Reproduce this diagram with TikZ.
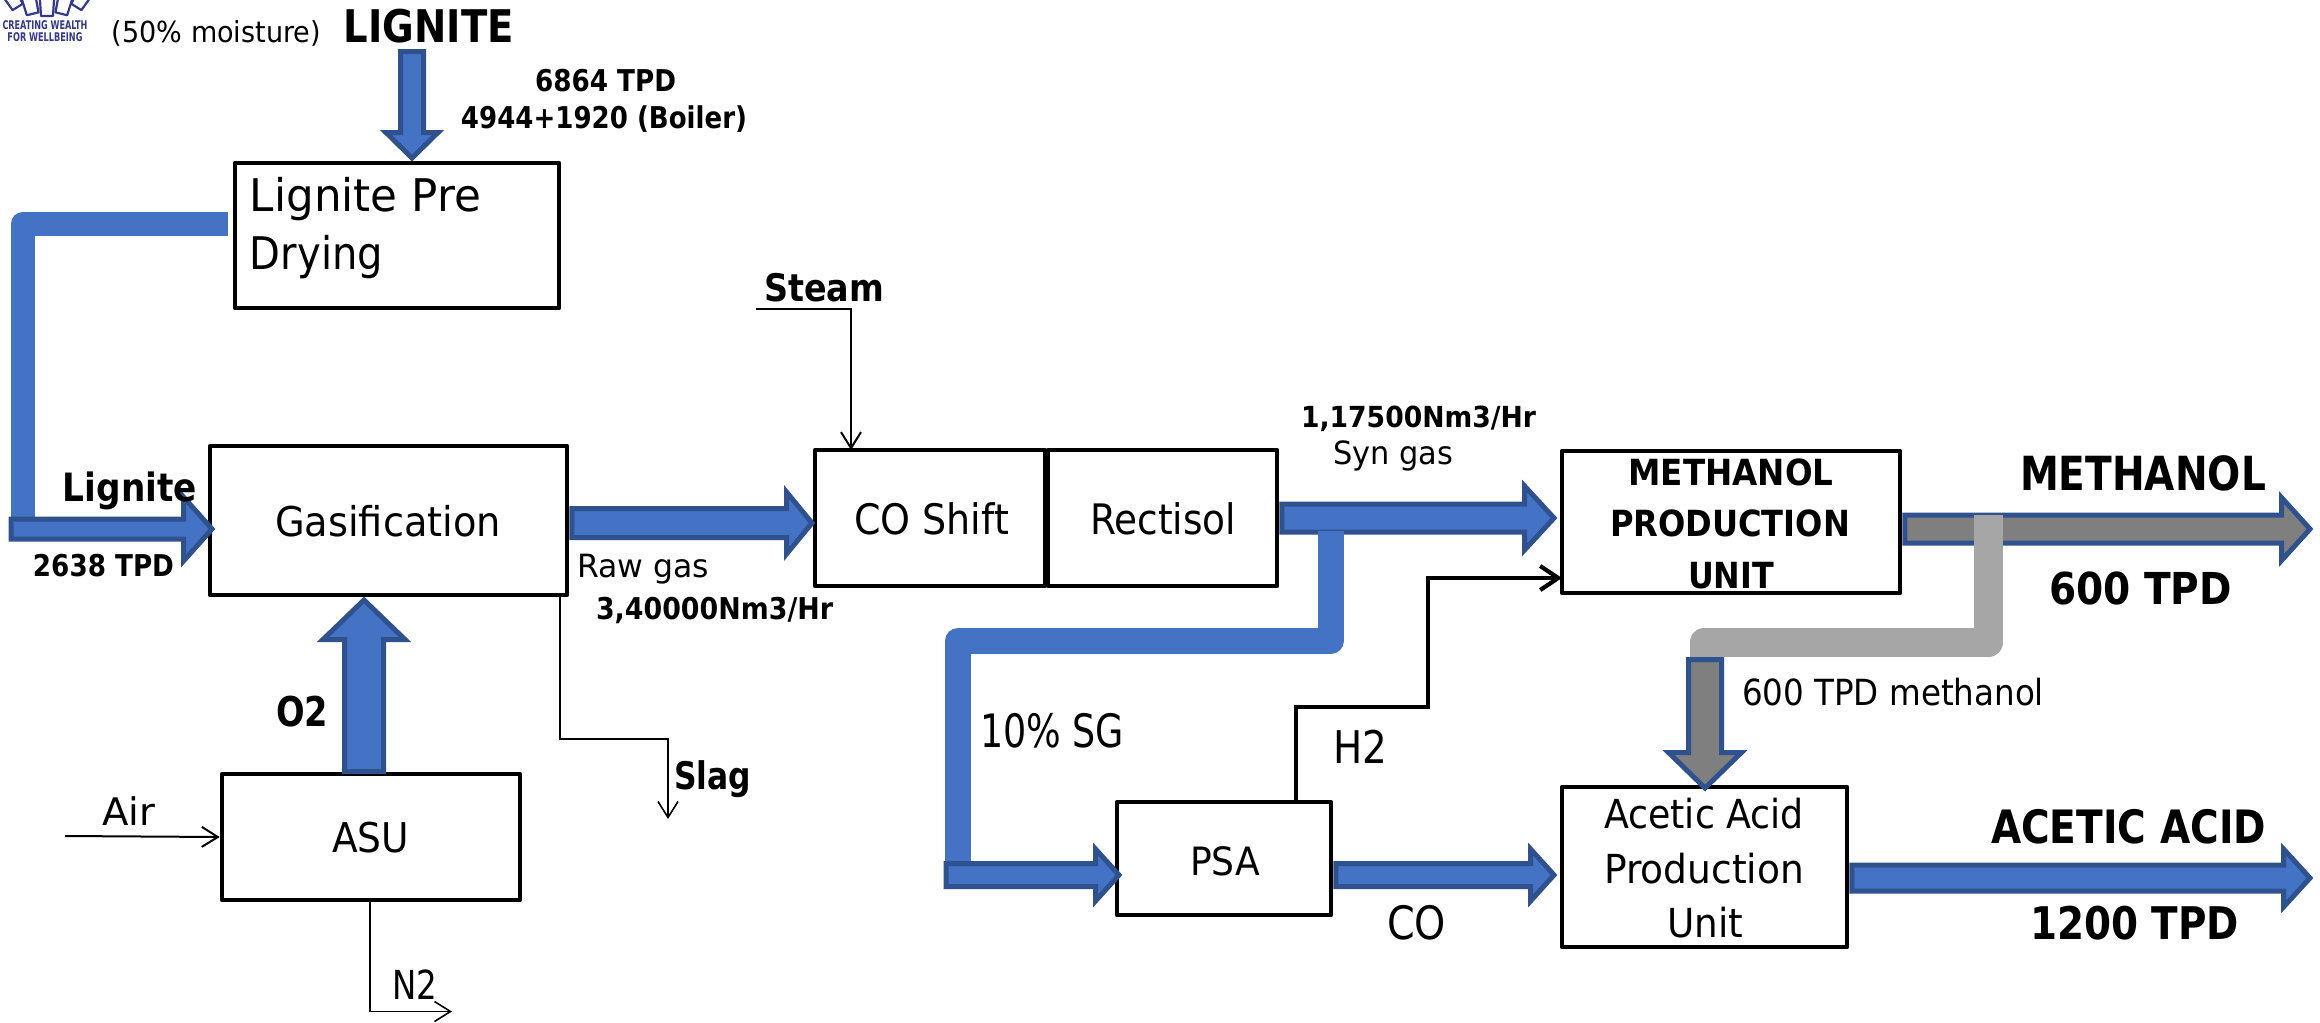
\documentclass[tikz,border=0pt]{standalone}
\usepackage{fontspec}
\usepackage{graphicx}
\setmainfont{DejaVu Sans}
\usetikzlibrary{calc,arrows.meta}
\definecolor{flowblue}{HTML}{4472C4}
\definecolor{flowedge}{HTML}{2F528F}
\definecolor{flowgrey}{HTML}{7F7F7F}
\definecolor{pipegrey}{HTML}{A6A6A6}
\definecolor{logonavy}{HTML}{34398F}
\newlength\pxu \setlength\pxu{.5pt}
\tikzset{
  x=.5pt,y=-.5pt,
  procbox/.style={draw=black,fill=white,line width=2.3pt,inner sep=0pt,line join=round},
  lbl/.style={inner sep=0pt,outer sep=0pt,anchor=base,text=black},
  blockflow/.style={draw=flowedge,line width=2.5pt,line join=miter,miter limit=10},
  bluepipe/.style={draw=flowblue,line join=round},
  greypipe/.style={draw=pipegrey,line join=round},
  thinflow/.style={draw=black,line width=1pt,-{Straight Barb[length=8pt,width=10pt,line width=1pt]}},
  hairflow/.style={draw=black,line width=.8pt,-{Straight Barb[length=8pt,width=10pt,line width=.8pt]}},
  boldflow/.style={draw=black,line width=2.1pt,-{Straight Barb[length=9pt,width=12pt,line width=2.1pt]}},
}
% name, cx, cy (middle of the capitals), width, em (all in px), text
\newcommand{\lab}[6]{\node[lbl] (#1) at ({#2},{#3+.365*#5}) {\resizebox{#4\pxu}{\height}{\fontsize{\fpeval{#5/2}}{\fpeval{#5/2*1.2}}\selectfont #6}};}
\newcommand{\labb}[6]{\node[lbl] (#1) at ({#2},{#3+.365*#5}) {\resizebox{#4\pxu}{\height}{\fontsize{\fpeval{#5/2}}{\fpeval{#5/2*1.2}}\selectfont\bfseries #6}};}
% name, x0, y0, x1, y1
\newcommand{\bx}[5]{\node[procbox,minimum width={(#4-#2)*.5pt},minimum height={(#5-#3)*.5pt}] (#1) at ({(#2+#4)/2},{(#3+#5)/2}) {};}
% start, tip, shaft half, head half, head length, fill
\newcommand{\hblock}[6]{\draw[blockflow,fill=#6]
  ($(#1 |- #2)+(2.5,{-(#3-2.5)})$) -- ($(#2)+({-(#5-2.5)},{-(#3-2.5)})$) -- ($(#2)+({-(#5-2.5)},{-(#4-3)})$)
  -- ($(#2)+(-1,0)$) -- ($(#2)+({-(#5-2.5)},{#4-3})$) -- ($(#2)+({-(#5-2.5)},{#3-2.5})$)
  -- ($(#1 |- #2)+(2.5,{#3-2.5})$) -- cycle;}
% start, tip, shaft half, head half, head length, fill, direction (1 down, -1 up)
\newcommand{\vblock}[7]{\draw[blockflow,fill=#6]
  ($(#2 |- #1)+({-(#3-2.5)},{#7*2.5})$) -- ($(#2)+({-(#3-2.5)},{-#7*(#5-2.5)})$) -- ($(#2)+({-(#4-3)},{-#7*(#5-2.5)})$)
  -- ($(#2)+(0,{-#7*1})$) -- ($(#2)+({#4-3},{-#7*(#5-2.5)})$) -- ($(#2)+({#3-2.5},{-#7*(#5-2.5)})$)
  -- ($(#2 |- #1)+({#3-2.5},{#7*2.5})$) -- cycle;}
\begin{document}
\begin{tikzpicture}
\useasboundingbox[fill=white] (0,0) rectangle (2320,1023);

% logo fragment
\foreach \cx/\cy/\r in {14/1/32,31/7/14,47/9/0,63/7/-14,80/1/-32}{
  \begin{scope}[shift={(\cx,\cy)},rotate=\r]
    \draw[logonavy,line width=1.1pt,line join=round] (-7,-9) -- (-6,7) -- (6,7) -- (7,-9);
  \end{scope}
}
\node[lbl,text=logonavy] (logoa) at (45,29) {\resizebox{85\pxu}{\height}{\fontsize{6}{7}\selectfont\bfseries CREATING WEALTH}};
\node[lbl,text=logonavy] (logob) at (45,41) {\resizebox{75\pxu}{\height}{\fontsize{6}{7}\selectfont\bfseries FOR WELLBEING}};

% process boxes
\bx{predry}{235}{163}{559}{308}
\bx{gas}{210}{446}{567}{595}
\bx{asu}{222}{774}{520}{900}
\bx{shift}{815}{450}{1045}{586}
\bx{rect}{1048}{450}{1277}{586}
\bx{meth}{1562}{451}{1900}{593}
\bx{psa}{1117}{802}{1331}{915}
\bx{acet}{1562}{787}{1847}{947}

% anchor points
\coordinate (topS) at (412,49);     \coordinate (topT) at (412,159);
\coordinate (dryOut) at ($(predry.west)+(-5,-12)$);
\coordinate (dryBend) at (23,223.5); \coordinate (dryEnd) at (23,535);
\coordinate (ligS) at (8.5,529);    \coordinate (ligT) at (213,529);
\coordinate (rawT) at (813,523);
\coordinate (o2S) at (364,774);     \coordinate (o2T) at (364,599);
\coordinate (synT) at (1555,518);
\coordinate (methT) at (2311,529);
\coordinate (sgOut) at (1330.5,531); \coordinate (sgBendA) at (1330.5,641); \coordinate (sgBendB) at (958,641); \coordinate (sgEnd) at (958,880);
\coordinate (sgS) at (943.5,875);   \coordinate (sgT) at (1120,875);
\coordinate (coT) at (1555,875);
\coordinate (acetT) at (2311,878);
\coordinate (greyOut) at (1988,515); \coordinate (greyA) at (1988,642.5); \coordinate (greyB) at (1704,642.5); \coordinate (greyEnd) at (1704,659);
\coordinate (greyS) at (1705,657);  \coordinate (greyT) at (1705,789);
\coordinate (slagS) at (560,595);   \coordinate (slagM) at (614,739); \coordinate (slagT) at (668,819);
\coordinate (airS) at (65,836);
\coordinate (n2S) at (370,900);     \coordinate (n2T) at (452,1011.5);
\coordinate (steamS) at (756,309);  \coordinate (steamT) at (851,450);
\coordinate (h2S) at (1296,802);    \coordinate (h2A) at (1428,707);
\coordinate (h2T) at (1562,578);

% pipes and block arrows
\draw[bluepipe,line width=12pt] (dryOut) -- (dryBend) -- (dryEnd);
\hblock{ligS}{ligT}{12.5}{35}{32}{flowblue}
\vblock{topS}{topT}{14}{29}{29}{flowblue}{1}
\hblock{gas.east}{rawT}{17}{34}{29}{flowblue}
\vblock{o2S}{o2T}{22}{44}{43}{flowblue}{-1}
\hblock{rect.east}{synT}{16.5}{35}{33}{flowblue}
\draw[bluepipe,line width=13pt] (sgOut) -- (sgBendA) -- (sgBendB) -- (sgEnd);
\hblock{sgS}{sgT}{14}{29}{27}{flowblue}
\hblock{psa.east}{coT}{14}{29}{27}{flowblue}
\hblock{acet.east}{acetT}{15.5}{32}{30}{flowblue}
\hblock{meth.east}{methT}{16.5}{34.5}{32}{flowgrey}
\draw[greypipe,line width=14.5pt] (greyOut) -- (greyA) -- (greyB) -- (greyEnd);
\vblock{greyS}{greyT}{19}{39.5}{39}{flowgrey}{1}

% line connectors
\draw[hairflow] (slagS) |- (slagM) -| (slagT);
\draw[thinflow] (airS) -- (asu.west);
\draw[hairflow] (n2S) |- (n2T);
\draw[thinflow] (steamS) -| (steamT);
\draw[boldflow] (h2S) |- (h2A) |- (h2T);

% labels
\lab{moist}{216.5}{32}{209}{29}{(50\% moisture)}
\labb{lignitetop}{429}{26}{170}{45}{LIGNITE}
\labb{tpdA}{605.5}{81}{141}{30}{6864 TPD}
\labb{tpdB}{604}{118}{286}{30}{4944+1920 (Boiler)}
\lab{dryA}{365.5}{195}{231}{45}{Lignite Pre}
\lab{dryB}{316.5}{253}{133}{45}{Drying}
\labb{lignitefeed}{130}{487}{134}{39}{Lignite}
\labb{tpdC}{103.5}{566}{141}{30}{2638 TPD}
\lab{gaslbl}{388}{522}{226}{41}{Gasification}
\lab{rawlbl}{643}{566}{132}{32}{Raw gas}
\labb{rawrate}{714.5}{609}{237}{30}{3,40000Nm3/Hr}
\labb{oxy}{302}{712}{52}{41}{O2}
\labb{slaglbl}{712.5}{776}{77}{38}{Slag}
\lab{airlbl}{128.5}{812}{53}{38}{Air}
\lab{asulbl}{370.5}{838}{77}{41}{ASU}
\lab{ntwo}{414.5}{985}{45}{40}{N2}
\labb{steamlbl}{824}{288}{120}{38}{Steam}
\lab{shiftlbl}{931.5}{519}{155}{42}{CO Shift}
\lab{rectlbl}{1163}{519}{146}{42}{Rectisol}
\labb{synrate}{1418.5}{417}{235}{29}{1,17500Nm3/Hr}
\lab{synlbl}{1393}{453}{120}{32}{Syn gas}
\labb{methA}{1731}{472}{205}{36}{METHANOL}
\labb{methB}{1730}{523}{240}{36}{PRODUCTION}
\labb{methC}{1731}{575}{86}{36}{UNIT}
\labb{methout}{2143}{473}{246}{47}{METHANOL}
\labb{methtpd}{2140.5}{588}{183}{44}{600 TPD}
\lab{sglbl}{1052}{731}{144}{46}{10\% SG}
\lab{htwo}{1360}{747}{54}{45}{H2}
\lab{psalbl}{1225}{861}{70}{39}{PSA}
\lab{colbl}{1416.5}{923}{59}{46}{CO}
\lab{methflow}{1893}{692}{302}{36}{600 TPD methanol}
\lab{acA}{1704}{814}{200}{40}{Acetic Acid}
\lab{acB}{1704}{869}{200}{40}{Production}
\lab{acC}{1705}{923}{76}{40}{Unit}
\labb{acout}{2128.5}{827}{275}{46}{ACETIC ACID}
\labb{actpd}{2134.5}{923}{209}{45}{1200 TPD}
\end{tikzpicture}
\end{document}
